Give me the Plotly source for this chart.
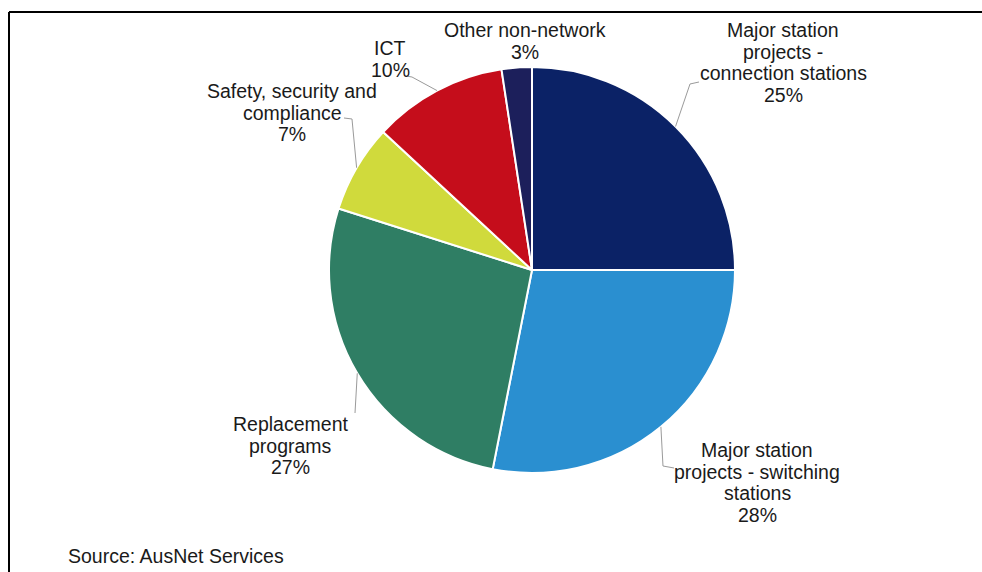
import math
import plotly.graph_objects as go

W, H = 982, 572

categories = [
    "Major station<br>projects -<br>connection stations",
    "Major station<br>projects - switching<br>stations",
    "Replacement<br>programs",
    "Safety, security and<br>compliance",
    "ICT",
    "Other non-network",
]
values = [25.0, 28.1, 26.8, 7.0, 10.7, 2.4]
pct_labels = ["25%", "28%", "27%", "7%", "10%", "3%"]
colors = ["#0b2266", "#2a8fd0", "#2f7e64", "#d0da3c", "#c50d1b", "#1c1f5b"]

# pie geometry (pixels)
CX, CY, R = 532, 270, 203

def px(x):
    return x / W

def py(y):
    return 1 - y / H

fig = go.Figure(go.Pie(
    labels=categories,
    values=values,
    sort=False,
    direction="clockwise",
    rotation=0,
    marker=dict(colors=colors, line=dict(color="white", width=2)),
    textinfo="none",
    hoverinfo="skip",
    showlegend=False,
    domain=dict(x=[px(CX - R), px(CX + R)], y=[py(CY + R), py(CY - R)]),
))

FONT = dict(family="Liberation Sans, Arial, sans-serif", size=19.5, color="#1a1a1a")

# label block placement: (center x, first line center y)
label_pos = [(783, 30), (757, 450), (290, 424), (292, 91), (390, 48), (525, 30)]
LINE_H = 21.7
# leader line bend points after the slice edge point
leader_pts = [
    [(690, 84), (699, 82)],
    [(663, 466), (674, 468)],
    [(355, 413)],
    [(352, 119), (344, 118)],
    [(412, 77), (406, 76)],
    None,
]

annotations = []
shapes = []
total = sum(values)
cum = 0.0
for i, v in enumerate(values):
    mid = (cum + v / 2) / total * 2 * math.pi
    cum += v
    ex = CX + R * math.sin(mid)
    ey = CY - R * math.cos(mid)
    lines = categories[i].split("<br>") + [pct_labels[i]]
    lx, ly = label_pos[i]
    for k, t in enumerate(lines):
        annotations.append(dict(
            x=px(lx), y=py(ly + k * LINE_H), xref="paper", yref="paper",
            text=t, showarrow=False, xanchor="center", yanchor="middle",
            font=FONT,
        ))
    if leader_pts[i]:
        pts = [(ex, ey)] + leader_pts[i]
        path = "M " + " L ".join(f"{px(x):.5f},{py(y):.5f}" for x, y in pts)
        shapes.append(dict(type="path", path=path, xref="paper", yref="paper",
                           line=dict(color="#9a9a9a", width=1)))

annotations.append(dict(
    x=px(66), y=py(556), xref="paper", yref="paper", text="Source: AusNet Services",
    showarrow=False, xanchor="left", yanchor="middle", font=FONT,
))

# frame lines
shapes.append(dict(type="line", xref="paper", yref="paper", x0=px(9), x1=1.0, y0=py(12), y1=py(12),
                   line=dict(color="black", width=2)))
shapes.append(dict(type="line", xref="paper", yref="paper", x0=px(9), x1=px(9), y0=py(12), y1=0,
                   line=dict(color="black", width=2)))

fig.update_layout(
    width=W, height=H,
    margin=dict(l=0, r=0, t=0, b=0),
    paper_bgcolor="white", plot_bgcolor="white",
    annotations=annotations, shapes=shapes,
)

fig.write_html("out.html")
